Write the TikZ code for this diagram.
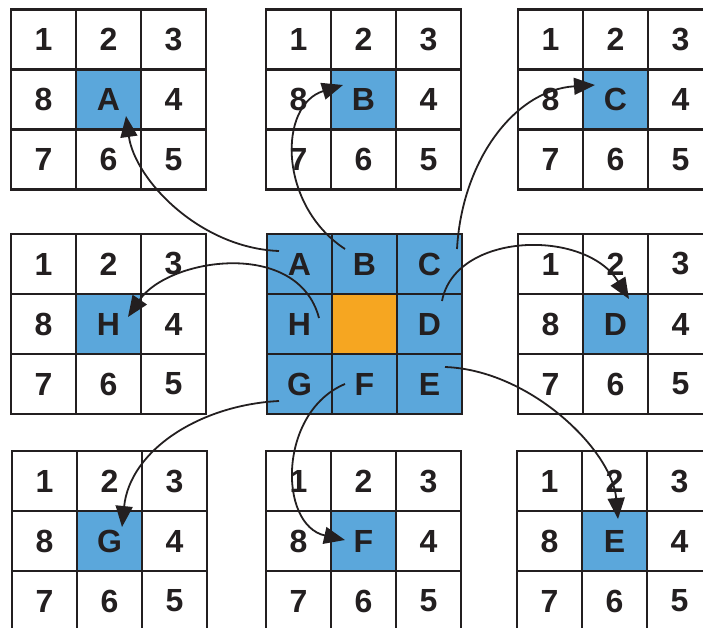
\documentclass[tikz,border=0pt]{standalone}
\usepackage{fontspec}
\setmainfont{Liberation Sans}
\usetikzlibrary{arrows.meta}

\definecolor{cellblue}{RGB}{91,167,219}
\definecolor{cellorange}{RGB}{246,166,33}
\definecolor{inkgray}{RGB}{35,31,32}

\tikzset{
    cell/.style={draw=inkgray, line width=2.2pt, minimum width=65pt, minimum height=60pt,
        inner sep=0pt, text=inkgray, font=\fontsize{32}{32}\selectfont\bfseries},
    link/.style={inkgray, line width=1.8pt, -{Triangle[length=21pt,width=17pt]}}
}

% one 3x3 neighbourhood: #1 name, #2/#3 top left corner, #4 middle label
\newcommand{\nbgrid}[4]{
    \foreach \lab [count=\k from 0] in {1,2,3,8,#4,4,7,6,5} {
        \pgfmathtruncatemacro{\col}{mod(\k,3)}
        \pgfmathtruncatemacro{\row}{div(\k,3)}
        \def\cellfill{white}
        \ifnum\k=4 \def\cellfill{cellblue}\fi
        \node[cell, fill=\cellfill] (#1-\k) at ({#2+\col*65+32.5},{#3+\row*60+30}) {\lab};
    }
}

\begin{document}
\begin{tikzpicture}[x=1pt, y=-1pt]
    \useasboundingbox (0,0) rectangle (703,627);
    \clip (0,0) rectangle (703,627);

    % the eight neighbourhoods round the middle one
    \nbgrid{nA}{11}{9.5}{A}
    \nbgrid{nB}{266}{9.5}{B}
    \nbgrid{nC}{518}{9.5}{C}
    \nbgrid{nH}{11}{234}{H}
    \nbgrid{nD}{518}{234}{D}
    \nbgrid{nG}{12}{451}{G}
    \nbgrid{nF}{266}{451}{F}
    \nbgrid{nE}{517}{451}{E}

    % middle neighbourhood
    \foreach \lab/\nm [count=\k from 0] in {A/cA,B/cB,C/cC,H/cH,{}/cX,D/cD,G/cG,F/cF,E/cE} {
        \pgfmathtruncatemacro{\col}{mod(\k,3)}
        \pgfmathtruncatemacro{\row}{div(\k,3)}
        \def\cellfill{cellblue}
        \ifnum\k=4 \def\cellfill{cellorange}\fi
        \node[cell, fill=\cellfill] (\nm) at ({267+\col*65+32.5},{234+\row*60+30}) {\lab};
    }

    % arrows from the middle cells out to their copies
    \draw[link] ([shift={(-20.5,-13)}]cA.center) .. controls +(-79,-3) and +(9,64) .. ([shift={(17.5,16.5)}]nA-4.center);
    \draw[link] ([shift={(-19.5,-15)}]cB.center) .. controls +(-67,-44) and +(-65,20) .. ([shift={(-20.5,-14.5)}]nB-4.center);
    \draw[link] ([shift={(27.5,-15)}]cC.center) .. controls +(5,-89) and +(-80,5) .. ([shift={(-20.5,-14.5)}]nC-4.center);
    \draw[link] ([shift={(19.5,-6)}]cH.center) .. controls +(-21,-80) and +(40,-59) .. ([shift={(19.5,-7)}]nH-4.center);
    \draw[link] ([shift={(12.5,-23)}]cD.center) .. controls +(13,-69) and +(-44,-71) .. ([shift={(13.5,-25)}]nD-4.center);
    \draw[link] ([shift={(15.5,-17)}]cE.center) .. controls +(85,3) and +(-6,-69) .. ([shift={(3.5,-22)}]nE-4.center);
    \draw[link] ([shift={(-20.5,17)}]cG.center) .. controls +(-79,4) and +(8,-77) .. ([shift={(12.5,-14)}]nG-4.center);
    \draw[link] ([shift={(-19.5,0)}]cF.center) .. controls +(-67,28) and +(-67,-15) .. ([shift={(-18.5,-1)}]nF-4.center);
\end{tikzpicture}
\end{document}
